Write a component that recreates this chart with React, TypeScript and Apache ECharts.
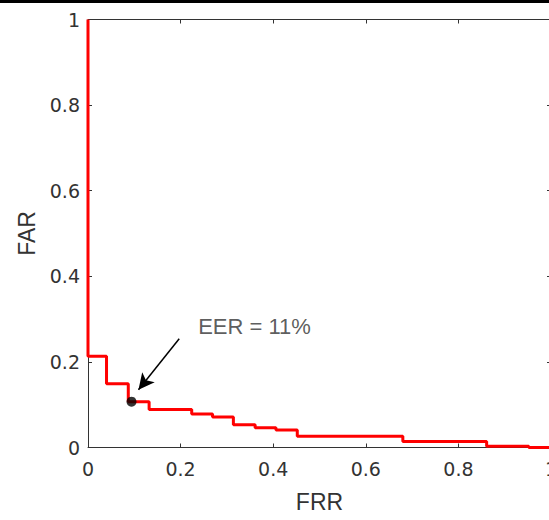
import React, { useEffect, useRef } from "react";
import * as echarts from "echarts";

// Step points of the FAR/FRR curve: [FRR, FAR]
const frrValues = [0, 0, 0.04, 0.087, 0.132, 0.224, 0.269, 0.314, 0.361, 0.406, 0.452, 0.68, 0.861, 0.952, 1.0];
const farValues = [1, 0.213, 0.149, 0.107, 0.089, 0.078, 0.071, 0.053, 0.046, 0.041, 0.026, 0.014, 0.003, 0, 0];

const eerPoint = [0.094, 0.107];
const arrowStart = [0.197, 0.254];
const arrowEnd = [0.109, 0.135];
const eerLabelAnchor = [0.238, 0.283];
const eerLabel = "EER = 11%";

const tickValues = [0, 0.2, 0.4, 0.6, 0.8, 1];
const xName = "FRR";
const yName = "FAR";

const axisColor = "#333333";
const textColor = "#333333";
const font = "'Liberation Sans', Arial, sans-serif";
const tickFont = "'DejaVu Sans', sans-serif";

export default function App() {
  const ref = useRef<HTMLDivElement>(null);
  useEffect(() => {
    if (!ref.current) return;
    const chart = echarts.init(ref.current, undefined, { renderer: "svg" });
    const fmt = (v: number) => (tickValues.includes(Math.round(v * 10) / 10) ? String(Math.round(v * 10) / 10) : "");
    const baseAxis = {
      type: "value" as const,
      min: 0,
      max: 1,
      interval: 0.2,
      splitLine: { show: false },
      axisLine: { show: true, onZero: false, lineStyle: { color: axisColor, width: 1 } },
      axisTick: { show: true, inside: true, length: 4, lineStyle: { color: axisColor } },
    };
    chart.setOption({
      animation: false,
      backgroundColor: "#ffffff",
      graphic: [
        { type: "rect", shape: { x: 0, y: 0, width: 549, height: 3 }, style: { fill: "#000000" } },
      ],
      grid: { left: 88, top: 19.5, width: 463, height: 428, containLabel: false, outerBoundsMode: "none" },
      xAxis: [
        {
          ...baseAxis,
          position: "bottom",
          name: xName,
          nameLocation: "middle",
          nameGap: 43,
          nameTextStyle: { fontFamily: font, fontSize: 23, color: textColor, verticalAlign: "top" },
          axisLabel: { show: true, margin: 12, fontFamily: tickFont, fontSize: 19, color: textColor, formatter: fmt },
        },
        { ...baseAxis, position: "top", axisLabel: { show: false } },
      ],
      yAxis: [
        {
          ...baseAxis,
          position: "left",
          name: yName,
          nameLocation: "middle",
          nameGap: 48,
          nameTextStyle: { fontFamily: font, fontSize: 23, color: textColor },
          axisLabel: { show: true, margin: 8, fontFamily: tickFont, fontSize: 19, color: textColor, formatter: fmt },
        },
        { ...baseAxis, position: "right", axisLabel: { show: false } },
      ],
      series: [
        {
          type: "line",
          step: "end",
          data: frrValues.map((x, i) => [x, farValues[i]]),
          showSymbol: false,
          symbol: "none",
          lineStyle: { color: "#ff0000", width: 3 },
          z: 3,
          markLine: {
            silent: true,
            symbol: ["none", "arrow"],
            symbolSize: [12, 16],
            label: { show: false },
            lineStyle: { color: "#000000", width: 1.5, type: "solid" },
            data: [[{ coord: arrowStart }, { coord: arrowEnd }]],
          },
        },
        {
          type: "scatter",
          data: [eerPoint],
          symbolSize: 10,
          itemStyle: { color: "#000000" },
          z: 4,
        },
        {
          type: "scatter",
          data: [eerLabelAnchor],
          symbolSize: 0,
          label: {
            show: true,
            position: "right",
            distance: 0,
            formatter: eerLabel,
            fontFamily: font,
            fontSize: 22,
            color: textColor,
          },
        },
      ],
    });
    return () => chart.dispose();
  }, []);
  return <div ref={ref} style={{ position: "fixed", left: 0, top: 0, width: 549, height: 520 }} />;
}
